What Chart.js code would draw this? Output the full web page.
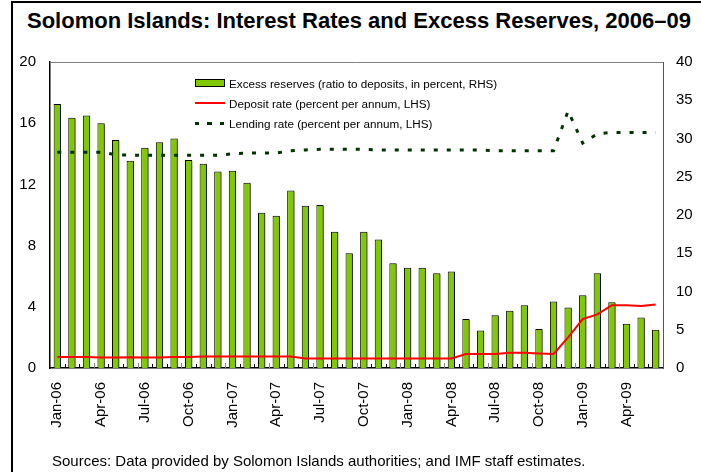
<!DOCTYPE html>
<html>
<head>
<meta charset="utf-8">
<script src="https://cdn.jsdelivr.net/npm/chart.js@4.4.1/dist/chart.umd.min.js"></script>
<style>
  html, body { margin: 0; padding: 0; background: #fff; }
  body { font-family: "Liberation Sans", Arial, sans-serif; }
  #wrap { position: relative; width: 701px; height: 472px; overflow: hidden; }
  #frame { position: absolute; left: 11px; top: 1px; width: 720px; height: 500px;
           border-left: 2px solid #000; border-top: 2px solid #000; }
  #title { position: absolute; left: 27px; top: 8px; font-weight: bold; font-size: 22px; color: #000; white-space: nowrap; }
  #source { position: absolute; left: 52px; top: 452px; font-size: 15px; color: #000; white-space: nowrap; }
  #legend { position: absolute; left: 195px; top: 73px; font-size: 11.7px; color: #000; }
  #legend .row { height: 20px; display: flex; align-items: center; white-space: nowrap; }
  #legend .sw { width: 30px; margin-right: 4px; box-sizing: border-box; }
  #chart { position: absolute; left: 0; top: 0; }
</style>
</head>
<body>
<div id="wrap">
  <div id="frame"></div>
  <div id="title">Solomon Islands: Interest Rates and Excess Reserves, 2006–09</div>
  <canvas id="chart" width="701" height="472"></canvas>
  <div id="legend"></div>
  <div id="source">Sources: Data provided by Solomon Islands authorities; and IMF staff estimates.</div>
</div>
<script>
// 月份 (Jan-06 .. Jun-09)
const months = [
  'Jan-06','Feb-06','Mar-06','Apr-06','May-06','Jun-06','Jul-06','Aug-06','Sep-06','Oct-06','Nov-06','Dec-06',
  'Jan-07','Feb-07','Mar-07','Apr-07','May-07','Jun-07','Jul-07','Aug-07','Sep-07','Oct-07','Nov-07','Dec-07',
  'Jan-08','Feb-08','Mar-08','Apr-08','May-08','Jun-08','Jul-08','Aug-08','Sep-08','Oct-08','Nov-08','Dec-08',
  'Jan-09','Feb-09','Mar-09','Apr-09','May-09','Jun-09'
];

// excess reserves, RHS
const excessReserves = [
  34.5, 32.7, 33.0, 32.0, 29.8, 27.1, 28.8, 29.5, 30.0, 27.2, 26.7, 25.7,
  25.8, 24.2, 20.3, 19.9, 23.2, 21.2, 21.3, 17.8, 15.0, 17.8, 16.8, 13.7,
  13.1, 13.1, 12.4, 12.6, 6.4, 4.9, 6.9, 7.5, 8.2, 5.1, 8.7, 7.9,
  9.5, 12.4, 8.6, 5.8, 6.6, 5.0
];

// deposit rate, LHS
const depositRate = [
  0.72, 0.72, 0.72, 0.68, 0.68, 0.70, 0.68, 0.68, 0.72, 0.72, 0.75, 0.75,
  0.75, 0.75, 0.75, 0.75, 0.75, 0.62, 0.62, 0.62, 0.62, 0.62, 0.62, 0.62,
  0.62, 0.62, 0.62, 0.62, 0.92, 0.92, 0.92, 1.0, 1.0, 0.95, 0.92, 2.0,
  3.2, 3.5, 4.1, 4.1, 4.05, 4.15
];

// lending rate, LHS
const lendingRate = [
  14.1, 14.1, 14.1, 14.1, 13.95, 13.9, 13.9, 13.9, 13.9, 13.9, 13.9, 13.9,
  14.0, 14.05, 14.05, 14.05, 14.2, 14.25, 14.3, 14.3, 14.3, 14.3, 14.25, 14.25,
  14.25, 14.25, 14.25, 14.25, 14.25, 14.25, 14.2, 14.2, 14.2, 14.2, 14.2, 16.8,
  14.7, 15.3, 15.4, 15.4, 15.4, 15.4
];

const leftTicks = [0, 4, 8, 12, 16, 20];
const rightTicks = [0, 5, 10, 15, 20, 25, 30, 35, 40];

const seriesNames = [
  'Excess reserves (ratio to deposits, in percent, RHS)',
  'Deposit rate (percent per annum, LHS)',
  'Lending rate (percent per annum, LHS)'
];

const GREEN = '#80C800';
const DARK = '#003300';
const RED = '#FF0000';
const FONT = "'Liberation Sans', Arial, sans-serif";

// bar shadow
const shadowPlugin = {
  id: 'barShadow',
  beforeDatasetDraw(chart, args) {
    if (args.index !== 0) return;
    const ctx = chart.ctx;
    ctx.save();
    ctx.shadowColor = 'rgba(0,0,0,0.45)';
    ctx.shadowOffsetX = 2;
    ctx.shadowOffsetY = 1;
    ctx.shadowBlur = 0;
  },
  afterDatasetDraw(chart, args) {
    if (args.index !== 0) return;
    chart.ctx.restore();
  }
};

// plot box + inside ticks on x axis
const framePlugin = {
  id: 'plotFrame',
  afterDraw(chart) {
    const { ctx, chartArea: a } = chart;
    const xs = chart.scales.x;
    const n = months.length;
    ctx.save();
    ctx.strokeStyle = '#808080';
    ctx.lineWidth = 1;
    ctx.beginPath();
    ctx.moveTo(a.left, a.top + 0.5);
    ctx.lineTo(a.right, a.top + 0.5);
    ctx.stroke();
    for (let i = 1; i < n; i++) {
      const x = Math.round(xs.left + i * xs.width / n) + 0.5;
      ctx.strokeStyle = i % 3 === 0 ? '#888' : '#000';
      ctx.beginPath();
      ctx.moveTo(x, a.bottom);
      ctx.lineTo(x, a.bottom - (i % 3 === 0 ? 5 : 4));
      ctx.stroke();
    }
    ctx.restore();
  }
};

new Chart(document.getElementById('chart').getContext('2d'), {
  type: 'bar',
  data: {
    labels: months,
    datasets: [
      { type: 'bar', label: seriesNames[0], data: excessReserves, yAxisID: 'y1',
        backgroundColor: GREEN, borderColor: '#000', borderWidth: 1,
        barPercentage: 0.5, categoryPercentage: 1, order: 3 },
      { type: 'line', label: seriesNames[1], data: depositRate, yAxisID: 'y',
        borderColor: RED, borderWidth: 2, pointRadius: 0, tension: 0, fill: false, order: 2 },
      { type: 'line', label: seriesNames[2], data: lendingRate, yAxisID: 'y',
        borderColor: DARK, borderWidth: 3, borderDash: [4, 9], pointRadius: 0, tension: 0, fill: false, order: 1 }
    ]
  },
  options: {
    responsive: false,
    animation: false,
    layout: { padding: { top: 62, left: 0, right: 0, bottom: 0 } },
    plugins: { legend: { display: false }, tooltip: { enabled: false } },
    scales: {
      x: {
        offset: true,
        grid: { display: false },
        border: { display: true, color: '#000', width: 1.5 },
        ticks: {
          autoSkip: false, maxRotation: 90, minRotation: 90, padding: 6,
          color: '#000', font: { family: FONT, size: 15 },
          callback: (v, i) => (i % 3 === 0 ? months[i] : '')
        },
        afterFit: s => { s.height = 104; }
      },
      y: {
        position: 'left', min: 0, max: 20,
        grid: { display: false },
        border: { display: true, color: '#000', width: 1.5 },
        afterBuildTicks: s => { s.ticks = leftTicks.map(v => ({ value: v })); },
        ticks: { padding: 6, color: '#000', font: { family: FONT, size: 15 } },
        afterFit: s => { s.width = 50; }
      },
      y1: {
        position: 'right', min: 0, max: 40,
        grid: { display: false },
        border: { display: true, color: '#555', width: 1 },
        afterBuildTicks: s => { s.ticks = rightTicks.map(v => ({ value: v })); },
        ticks: { padding: 5, color: '#000', font: { family: FONT, size: 15 } },
        afterFit: s => { s.width = 38; }
      }
    }
  },
  plugins: [shadowPlugin, framePlugin]
});

// HTML legend
const legend = document.getElementById('legend');
const swatches = [
  `background:${GREEN};border:1px solid #000;height:8px;`,
  `background:${RED};height:2px;`,
  `background:repeating-linear-gradient(90deg, ${DARK} 0 4px, transparent 4px 12.5px);height:3px;`
];
seriesNames.forEach((name, i) => {
  const row = document.createElement('div');
  row.className = 'row';
  row.innerHTML = `<span class="sw" style="${swatches[i]}"></span><span>${name}</span>`;
  legend.appendChild(row);
});
</script>
</body>
</html>
